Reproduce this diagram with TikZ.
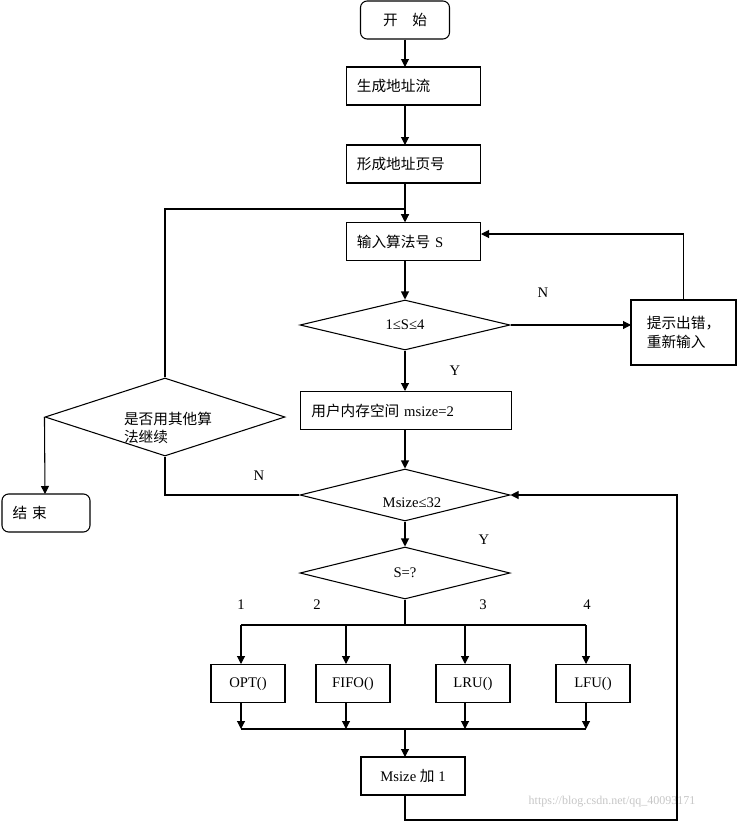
\documentclass[tikz,border=0pt]{standalone}
\usepackage{fontspec}
\setmainfont{Liberation Serif}
\newfontfamily\cjk{Noto Sans CJK SC}
\usetikzlibrary{shapes.geometric,arrows.meta}
\begin{document}
\begin{tikzpicture}[x=0.75pt,y=-0.75pt,line width=0.8pt,
  every node/.style={font=\fontsize{11}{14}\selectfont},
  box/.style={draw,minimum height=28.5pt,inner xsep=8pt,inner ysep=2pt},
  dia/.style={draw,diamond,aspect=4,inner sep=0pt},
  arr/.style={-{Triangle[length=6pt,width=6pt]}},
  ln/.style={},
  lbl/.style={font=\fontsize{11}{13}\selectfont}]
\useasboundingbox (0,0) rectangle (737,821);
\node[box,rounded corners=5pt,minimum width=66.75pt] (start) at (405,20) {\cjk 开\quad 始};
\node[box,minimum width=101pt,text width=85pt] (gen) at (413.5,86) {\cjk 生成地址流};
\node[box,minimum width=101pt,text width=85pt] (page) at (413.5,164) {\cjk 形成地址页号};
\node[box,minimum width=101pt,text width=85pt] (inp) at (413.5,241.5) {{\cjk 输入算法号} S};
\node[dia,minimum width=157.5pt,minimum height=37.5pt] (d1) at (405,325) {1≤S≤4};
\node[box,minimum width=78.75pt,minimum height=48.75pt,align=left,inner xsep=6pt] (err) at (683.5,332.5) {\cjk 提示出错，\\ \cjk 重新输入};
\node[box,minimum width=157.5pt,text width=142pt] (mem) at (406,410.5) {{\cjk 用户内存空间} msize=2};
\node[dia,minimum width=180pt,minimum height=58.5pt] (d2) at (165,417) {};
\node[align=left] at (168,428) {\cjk 是否用其他算\\ \cjk 法继续};
\node[box,rounded corners=5pt,minimum width=66pt,text width=50pt] (end) at (46,513) {\cjk 结\ 束};
\node[dia,minimum width=157.5pt,minimum height=39pt] (d3) at (405,495) {};
\node at (412,503) {Msize≤32};
\node[dia,minimum width=157.5pt,minimum height=39pt] (d4) at (405,573) {S=?};
\node[box,minimum width=55.5pt,inner xsep=2pt] (opt) at (248,683.5) {OPT()};
\node[box,minimum width=55.5pt,inner xsep=2pt] (fifo) at (353,683.5) {FIFO()};
\node[box,minimum width=55.5pt,inner xsep=2pt] (lru) at (473,683.5) {LRU()};
\node[box,minimum width=55.5pt,inner xsep=2pt] (lfu) at (593,683.5) {LFU()};
\node[box,minimum width=78pt] (inc) at (413,776) {Msize {\cjk 加} 1};
\node[lbl] at (543,293) {N};
\node[lbl] at (455,371) {Y};
\node[lbl] at (259,476) {N};
\node[lbl] at (484,540) {Y};
\node[lbl] at (241,605) {1};
\node[lbl] at (317,605) {2};
\node[lbl] at (483,605) {3};
\node[lbl] at (587,605) {4};
\node[text=gray!45,font=\fontsize{9}{11}\selectfont] at (612,802) {https://blog.csdn.net/qq\_40093171};
\draw[arr] (start) -- (405,67);
\draw[arr] (405,105) -- (405,145);
\draw[arr] (405,183) -- (405,222);
\draw[arr] (405,261) -- (d1.north);
\draw[arr] (d1.east) -- (631,325);
\draw[arr] (err.north) |- (481,234);
\draw[arr] (d1.south) -- (405,391);
\draw[arr] (405,430) -- (d3.north);
\draw[ln] (d3.west) -| (d2.south);
\draw[arr] (d2.north) |- (405,209) -- (405,222);
\draw[arr] (d2.west) -- (45,494);
\draw[arr] (d3.south) -- (d4.north);
\draw[ln] (d4.south) -- (405,625);
\draw[ln] (241,625) -- (586,625);
\foreach \x in {241,346,465,586} \draw[arr] (\x,625) -- (\x,664);
\foreach \x in {241,346,465,586} \draw[arr] (\x,703) -- (\x,729);
\draw[ln] (241,729) -- (586,729);
\draw[arr] (405,729) -- (405,757);
\draw[arr] (405,795) -- (405,820) -| (677,495) -- (d3.east);
\end{tikzpicture}
\end{document}
